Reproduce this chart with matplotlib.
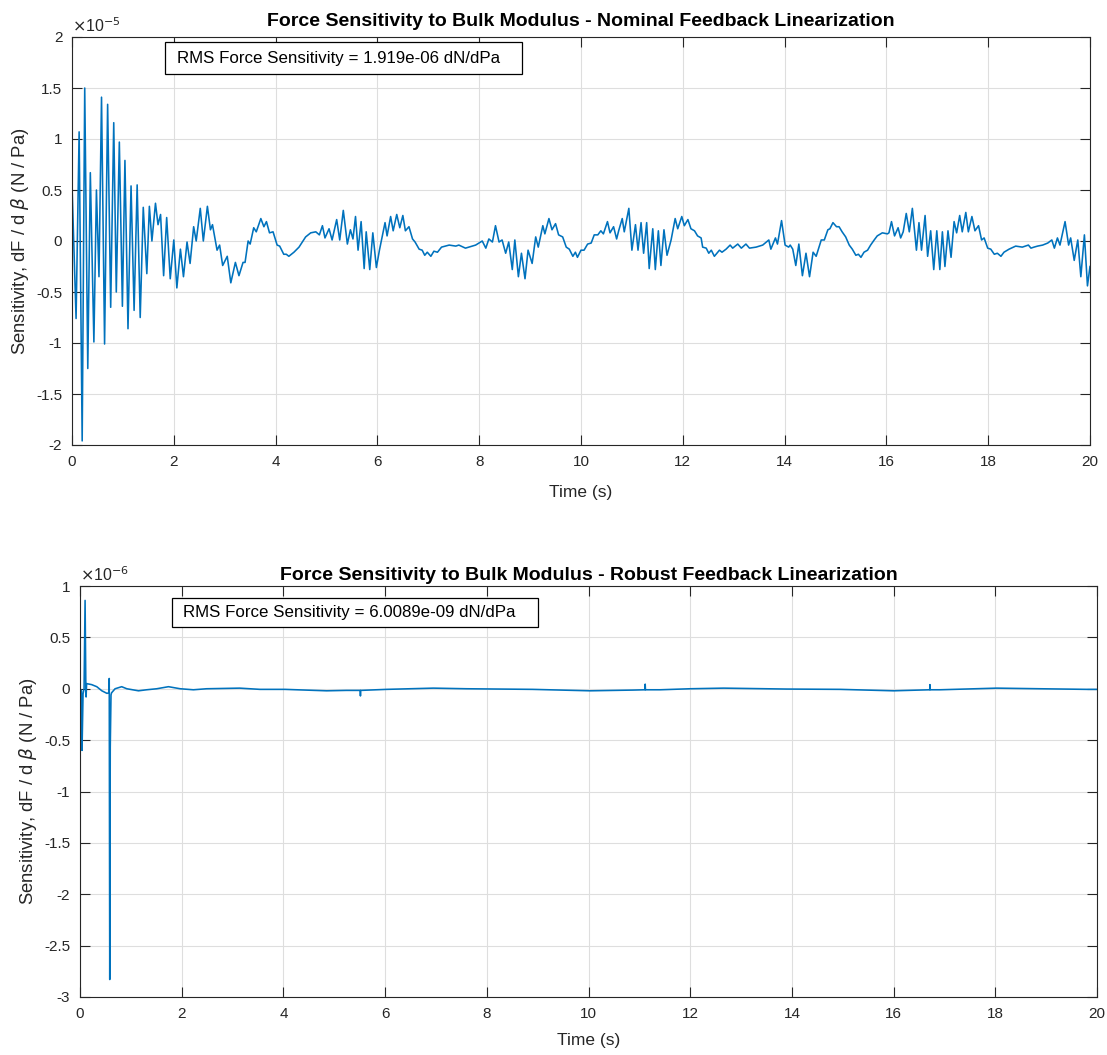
import numpy as np
import matplotlib
matplotlib.use("Agg")
import matplotlib.pyplot as plt
from matplotlib.patches import Rectangle
from matplotlib.ticker import FuncFormatter

plt.rcParams['font.family'] = ['Liberation Sans', 'DejaVu Sans']
plt.rcParams['axes.unicode_minus'] = False
plt.rcParams['mathtext.fontset'] = 'dejavusans'

# ---------------- data (values in units of 1e-5 N/Pa) ----------------
nominal_scale_exp = -5
nominal_t = [
    0.00, 0.08, 0.14, 0.20, 0.25, 0.31, 0.36, 0.43, 0.48, 0.53, 0.58, 0.64, 0.70, 0.76, 0.82, 0.87,
    0.93, 0.99, 1.04, 1.10, 1.16, 1.22, 1.28, 1.34, 1.40, 1.47, 1.52, 1.57, 1.64, 1.69, 1.74, 1.80,
    1.86, 1.93, 2.00, 2.06, 2.13, 2.19, 2.26, 2.32, 2.39, 2.44, 2.52, 2.58, 2.66, 2.72, 2.76, 2.85,
    2.90, 2.96, 3.05, 3.12, 3.21, 3.28, 3.36, 3.40, 3.46, 3.50, 3.57, 3.62, 3.71, 3.77, 3.82, 3.88,
    3.95, 4.03, 4.08, 4.16, 4.21, 4.26, 4.36, 4.46, 4.59, 4.69, 4.79, 4.86, 4.92, 4.97, 5.05, 5.11,
    5.20, 5.26, 5.33, 5.41, 5.47, 5.52, 5.57, 5.62, 5.68, 5.74, 5.78, 5.85, 5.91, 5.98, 6.04, 6.15,
    6.19, 6.26, 6.31, 6.38, 6.44, 6.50, 6.55, 6.62, 6.69, 6.74, 6.82, 6.88, 6.93, 6.98, 7.05, 7.11,
    7.18, 7.26, 7.41, 7.54, 7.60, 7.73, 7.93, 8.06, 8.13, 8.19, 8.26, 8.32, 8.39, 8.45, 8.52, 8.58,
    8.65, 8.70, 8.77, 8.83, 8.90, 8.96, 9.04, 9.11, 9.16, 9.25, 9.29, 9.37, 9.43, 9.50, 9.56, 9.64,
    9.71, 9.77, 9.84, 9.89, 9.93, 10.00, 10.06, 10.13, 10.20, 10.26, 10.33, 10.39, 10.44, 10.52, 10.57, 10.64,
    10.70, 10.74, 10.81, 10.85, 10.94, 11.00, 11.07, 11.12, 11.18, 11.23, 11.29, 11.34, 11.41, 11.46, 11.52, 11.57,
    11.63, 11.69, 11.77, 11.85, 11.90, 11.98, 12.03, 12.10, 12.16, 12.23, 12.29, 12.36, 12.39, 12.46, 12.51, 12.56,
    12.62, 12.72, 12.77, 12.85, 12.93, 12.98, 13.08, 13.15, 13.24, 13.31, 13.44, 13.57, 13.69, 13.73, 13.82, 13.86,
    13.94, 14.01, 14.08, 14.11, 14.16, 14.22, 14.28, 14.35, 14.42, 14.49, 14.56, 14.62, 14.72, 14.78, 14.85, 14.89,
    14.95, 15.02, 15.07, 15.13, 15.20, 15.27, 15.33, 15.40, 15.45, 15.50, 15.56, 15.63, 15.69, 15.76, 15.82, 15.92,
    16.02, 16.05, 16.10, 16.16, 16.23, 16.28, 16.33, 16.39, 16.45, 16.51, 16.59, 16.64, 16.69, 16.76, 16.81, 16.87,
    16.93, 16.99, 17.05, 17.10, 17.15, 17.21, 17.27, 17.33, 17.38, 17.44, 17.49, 17.56, 17.61, 17.68, 17.74, 17.81,
    17.87, 17.92, 17.99, 18.05, 18.12, 18.18, 18.25, 18.31, 18.41, 18.54, 18.67, 18.79, 18.84, 18.90, 18.97, 19.07,
    19.17, 19.25, 19.30, 19.36, 19.41, 19.51, 19.58, 19.62, 19.69, 19.76, 19.82, 19.89, 19.95, 20.00,
]
nominal_sens = [
    0.55, -0.76, 1.07, -1.96, 1.50, -1.25, 0.67, -0.99, 0.50, -0.35, 1.41, -1.01, 1.34, -0.65, 1.16, -0.50,
    0.97, -0.64, 0.79, -0.86, 0.54, -0.68, 0.55, -0.75, 0.33, -0.32, 0.34, 0.00, 0.37, 0.16, 0.26, -0.34,
    0.23, -0.37, 0.01, -0.46, -0.08, -0.35, -0.01, -0.22, 0.14, 0.00, 0.32, 0.00, 0.34, 0.11, 0.16, -0.09,
    -0.04, -0.24, -0.15, -0.41, -0.21, -0.34, -0.21, -0.21, 0.00, -0.03, 0.13, 0.09, 0.22, 0.14, 0.19, 0.08,
    0.09, -0.04, -0.05, -0.13, -0.13, -0.15, -0.11, -0.06, 0.04, 0.08, 0.09, 0.06, 0.15, 0.03, 0.12, 0.01,
    0.21, 0.01, 0.30, -0.03, 0.11, 0.02, 0.24, -0.09, 0.19, -0.27, 0.09, -0.28, 0.08, -0.26, -0.09, 0.18,
    0.05, 0.24, 0.10, 0.26, 0.13, 0.25, 0.10, 0.14, 0.02, -0.01, -0.08, -0.09, -0.14, -0.11, -0.15, -0.10,
    -0.11, -0.06, -0.04, -0.05, -0.04, -0.07, -0.04, 0.00, -0.07, 0.02, -0.01, 0.15, -0.01, 0.01, -0.12, -0.01,
    -0.28, 0.01, -0.35, -0.12, -0.37, -0.09, -0.22, 0.04, -0.06, 0.15, 0.07, 0.22, 0.11, 0.17, 0.06, 0.04,
    -0.06, -0.08, -0.15, -0.11, -0.16, -0.09, -0.09, -0.03, -0.02, 0.06, 0.06, 0.10, 0.07, 0.19, 0.08, 0.14,
    0.02, 0.10, 0.22, 0.09, 0.32, -0.09, 0.16, -0.09, 0.18, -0.12, 0.18, -0.27, 0.12, -0.28, 0.10, -0.24,
    0.11, -0.14, 0.01, 0.22, 0.12, 0.24, 0.15, 0.21, 0.12, 0.10, 0.05, 0.03, -0.06, -0.07, -0.12, -0.09,
    -0.15, -0.09, -0.11, -0.08, -0.04, -0.07, -0.03, -0.07, -0.03, -0.07, -0.06, -0.04, 0.01, -0.08, 0.03, -0.03,
    0.20, -0.04, -0.06, -0.04, -0.08, -0.24, -0.03, -0.34, -0.12, -0.35, -0.11, -0.15, 0.01, 0.01, 0.11, 0.12,
    0.18, 0.14, 0.14, 0.09, 0.04, -0.04, -0.08, -0.14, -0.13, -0.16, -0.11, -0.09, -0.04, 0.01, 0.05, 0.08,
    0.07, 0.08, 0.19, 0.05, 0.13, 0.03, 0.09, 0.27, 0.09, 0.32, -0.09, 0.18, -0.09, 0.25, -0.15, 0.10,
    -0.28, 0.10, -0.28, 0.09, -0.25, 0.10, -0.16, 0.19, 0.08, 0.25, 0.09, 0.28, 0.09, 0.24, 0.10, 0.15,
    0.01, 0.03, -0.07, -0.08, -0.13, -0.12, -0.15, -0.11, -0.08, -0.05, -0.06, -0.04, -0.07, -0.06, -0.05, -0.04,
    -0.02, 0.01, -0.07, 0.03, -0.04, 0.19, -0.04, 0.03, -0.19, 0.01, -0.35, 0.06, -0.44, -0.25,
]

# ---------------- data (values in units of 1e-6 N/Pa) ----------------
robust_scale_exp = -6
robust_t = [
    0.00, 0.03, 0.04, 0.06, 0.08, 0.10, 0.115, 0.12, 0.13, 0.23, 0.33, 0.43, 0.53, 0.565, 0.575, 0.585,
    0.595, 0.61, 0.62, 0.69, 0.82, 0.92, 1.15, 1.31, 1.51, 1.74, 1.97, 2.23, 2.49, 3.14, 3.54, 4.03,
    4.85, 5.24, 5.51, 5.515, 5.52, 6.03, 6.95, 7.60, 8.90, 10.03, 10.87, 11.11, 11.115, 11.12, 11.41, 12.00,
    12.66, 13.90, 14.95, 16.00, 16.71, 16.715, 16.72, 16.91, 18.03, 18.88, 19.80, 20.00,
]
robust_sens = [
    0.00, -0.02, -0.60, -0.05, 0.00, 0.86, 0.02, -0.08, 0.05, 0.04, 0.02, -0.02, -0.045, -0.04, 0.10, -2.83,
    -0.57, -0.06, -0.04, 0.00, 0.02, 0.00, -0.02, -0.01, 0.00, 0.02, 0.00, -0.01, 0.00, 0.006, -0.006, -0.006,
    -0.02, -0.016, -0.016, -0.07, -0.016, -0.006, 0.006, 0.000, -0.006, -0.02, -0.013, -0.01, 0.045, -0.01, -0.01, 0.00,
    0.006, -0.003, -0.006, -0.02, -0.01, 0.04, -0.01, -0.01, 0.006, 0.000, -0.006, -0.006,
]

titles = ["Force Sensitivity to Bulk Modulus - Nominal Feedback Linearization",
          "Force Sensitivity to Bulk Modulus - Robust Feedback Linearization"]
rms_labels = ["RMS Force Sensitivity = 1.919e-06 dN/dPa",
              "RMS Force Sensitivity = 6.0089e-09 dN/dPa"]
x_ticks = list(range(0, 21, 2))
y_ticks_top = [-2, -1.5, -1, -0.5, 0, 0.5, 1, 1.5, 2]
y_ticks_bot = [-3, -2.5, -2, -1.5, -1, -0.5, 0, 0.5, 1]

LINE = '#0072BD'
DARK = '#262626'

W, H = 1107, 1055
fig = plt.figure(figsize=(W / 100, H / 100), dpi=100)

def px_axes(x0, x1, y0, y1):
    return fig.add_axes([x0 / W, 1 - y1 / H, (x1 - x0) / W, (y1 - y0) / H])

ax1 = px_axes(72, 1090, 37, 445)
ax2 = px_axes(80, 1097, 586, 997)

fmt = FuncFormatter(lambda v, p: ('%g' % v))

def style(ax, t, y, yticks, title, exp, rms, box, ylim, title_pad, xlab_y):
    ax.plot(t, y, color=LINE, lw=1.15, solid_joinstyle='round')
    ax.set_xlim(0, 20)
    ax.set_ylim(*ylim)
    ax.set_xticks(x_ticks)
    ax.set_yticks(yticks)
    ax.xaxis.set_major_formatter(fmt)
    ax.yaxis.set_major_formatter(fmt)
    ax.grid(True, color='#dedede', lw=0.8)
    ax.set_axisbelow(True)
    ax.tick_params(direction='in', length=7, width=0.8, top=True, right=True,
                   labelsize=11, colors=DARK)
    ax.tick_params(axis='x', pad=7)
    ax.tick_params(axis='y', pad=7)
    for s in ax.spines.values():
        s.set_color(DARK)
        s.set_linewidth(0.8)
    ax.set_title(title, fontsize=14, fontweight='bold', color='black', pad=title_pad)
    ax.set_xlabel('Time (s)', fontsize=12.5, color=DARK)
    ax.set_ylabel(r'Sensitivity, dF / d $\beta$ (N / Pa)', fontsize=13.3, color=DARK)
    ax.yaxis.set_label_coords(-0.040, 0.5)
    ax.xaxis.set_label_coords(0.5, xlab_y)
    ax.text(0.0, 1.004, r'$\times$10$^{%d}$' % exp, transform=ax.transAxes,
            fontsize=11.5, color=DARK, ha='left', va='bottom')
    x0, x1, y0, y1, tx = box
    ax.add_patch(Rectangle((x0, y0), x1 - x0, y1 - y0, transform=ax.transAxes,
                           facecolor='white', edgecolor='black', lw=0.9, zorder=5))
    ax.text(tx, (y0 + y1) / 2, rms, transform=ax.transAxes, fontsize=12.2,
            color='black', ha='left', va='center', zorder=6)

style(ax1, nominal_t, nominal_sens, y_ticks_top, titles[0], nominal_scale_exp, rms_labels[0],
      (0.0914, 0.442, 0.909, 0.988, 0.103), (-2, 2), 8, -0.097)
style(ax2, robust_t, robust_sens, y_ticks_bot, titles[1], robust_scale_exp, rms_labels[1],
      (0.0905, 0.450, 0.900, 0.971, 0.101), (-3, 1), 4, -0.088)

fig.savefig('out.png', dpi=100)
